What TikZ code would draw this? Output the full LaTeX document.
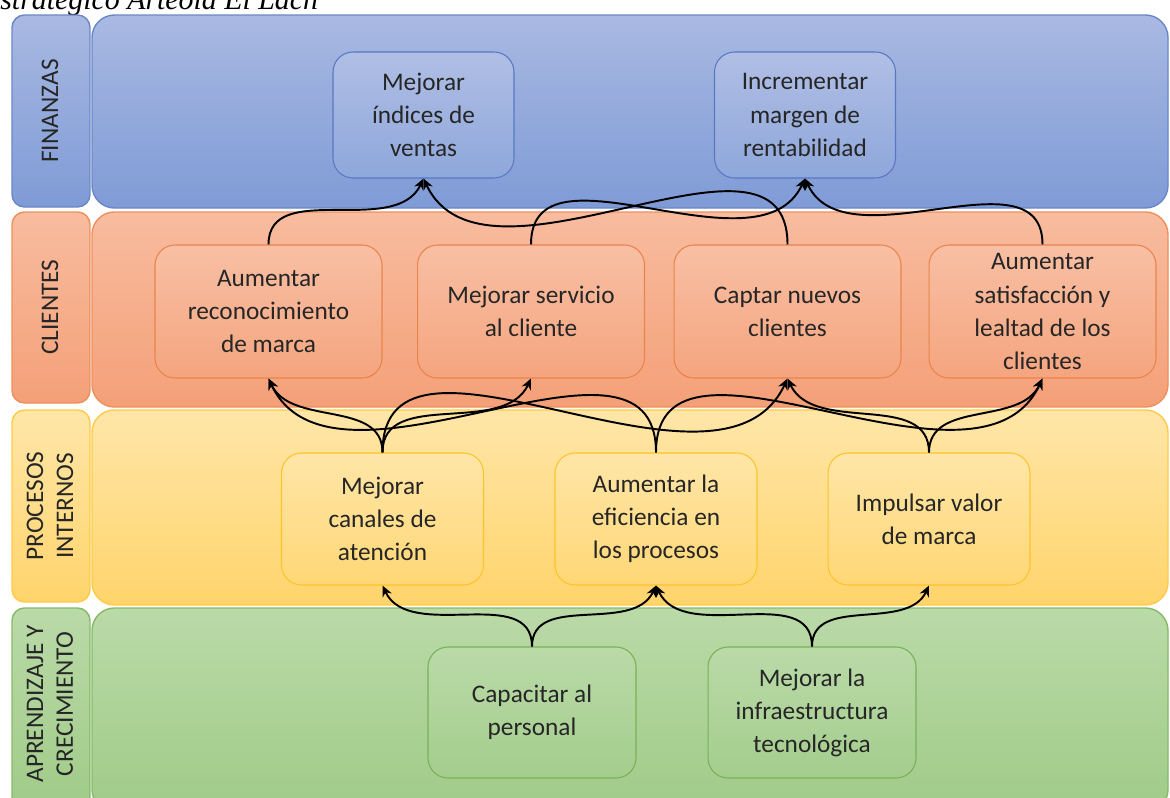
\documentclass[tikz,border=0pt]{standalone}
\usepackage{fontspec}
\setmainfont{Carlito}
\newfontfamily\capserif{Liberation Serif}
\usetikzlibrary{arrows.meta,positioning}

\definecolor{txt}{HTML}{262626}
\definecolor{finA}{HTML}{A9B9E2}
\definecolor{finB}{HTML}{7F9BD6}
\definecolor{finLine}{HTML}{6A88C9}
\definecolor{finEdge}{HTML}{5878C2}
\definecolor{cliA}{HTML}{F8BC9F}
\definecolor{cliB}{HTML}{F4A078}
\definecolor{cliLine}{HTML}{EE8F5E}
\definecolor{cliEdge}{HTML}{E8844C}
\definecolor{proA}{HTML}{FFE6A8}
\definecolor{proB}{HTML}{FFD46C}
\definecolor{proLine}{HTML}{FFCB45}
\definecolor{proEdge}{HTML}{FFC32A}
\definecolor{aprA}{HTML}{BADAA8}
\definecolor{aprB}{HTML}{A0CB88}
\definecolor{aprLine}{HTML}{86BA67}
\definecolor{aprEdge}{HTML}{78B156}

\begin{document}
\begin{tikzpicture}[x=0.02cm,y=-0.02cm,
  font=\fontsize{14.4}{18.8}\selectfont,
  lane/.style={line width=0.8pt,rounded corners=0.45cm},
  tag/.style={line width=0.8pt,rounded corners=0.25cm},
  tagtext/.style={rotate=90,align=center,text=txt,font=\fontsize{14.4}{17}\selectfont},
  box/.style={rectangle,rounded corners=0.4cm,align=center,text=txt,line width=0.6pt,inner sep=2pt},
  finbox/.style={box,draw=finEdge,top color=finA!92!white,bottom color=finB!88!white,minimum width=3.62cm,minimum height=2.52cm},
  clibox/.style={box,draw=cliEdge,top color=cliA!95!white,bottom color=cliB!95!white,minimum width=4.54cm,minimum height=2.66cm},
  probox/.style={box,draw=proEdge,top color=proA,bottom color=proB!85!proA,minimum width=4.04cm,minimum height=2.64cm},
  aprbox/.style={box,draw=aprEdge,top color=aprA,bottom color=aprB!85!aprA,minimum width=4.16cm,minimum height=2.62cm},
  link/.style={-{Stealth[length=2.2mm,width=2mm]},line width=1.1pt,black},
  upr/.style={link,out=90,in=-115},
  upl/.style={link,out=90,in=-65}]

\useasboundingbox[fill=white] (0,0) rectangle (1170,798);

% caption cut at the top edge
\node[anchor=base west,inner sep=0pt,font=\capserif\itshape\fontsize{17}{20}\selectfont] (cap) at (0,9) {strategico Arteola El Lach};

% lanes
\draw[lane,draw=finLine,top color=finA,bottom color=finB] (92,15) rectangle (1168,208);
\draw[tag,draw=finLine,top color=finA,bottom color=finB] (12,15) rectangle (90,207);
\node[tagtext] (tfin) at (50,111) {FINANZAS};

\draw[lane,draw=cliLine,top color=cliA,bottom color=cliB] (92,212) rectangle (1168,407);
\draw[tag,draw=cliLine,top color=cliA,bottom color=cliB] (12,212) rectangle (90,403);
\node[tagtext] (tcli) at (50,307) {CLIENTES};

\draw[lane,draw=proLine,top color=proA,bottom color=proB] (92,410) rectangle (1168,605);
\draw[tag,draw=proLine,top color=proA,bottom color=proB] (12,410) rectangle (90,602);
\node[tagtext] (tpro) at (50,506) {PROCESOS\\INTERNOS};

\draw[lane,draw=aprLine,top color=aprA,bottom color=aprB] (92,608) rectangle (1168,812);
\draw[tag,draw=aprLine,top color=aprA,bottom color=aprB] (12,608) rectangle (90,810);
\node[tagtext] (tapr) at (50,704) {APRENDIZAJE Y\\CRECIMIENTO};

% finanzas
\node[finbox] (ind) at (423.5,115) {Mejorar\\índices de\\ventas};
\node[finbox] (marg) at (805,115) {Incrementar\\margen de\\rentabilidad};

% clientes
\node[clibox] (rec) at (268.5,311.5) {Aumentar\\reconocimiento\\de marca};
\node[clibox] (serv) at (531,311.5) {Mejorar servicio\\al cliente};
\node[clibox] (capt) at (787.5,311.5) {Captar nuevos\\clientes};
\node[clibox] (sat) at (1042.5,311.5) {Aumentar\\satisfacción y\\lealtad de los\\clientes};

% procesos internos
\node[probox] (can) at (382.5,519) {Mejorar\\canales de\\atención};
\node[probox] (efi) at (656,519) {Aumentar la\\eficiencia en\\los procesos};
\node[probox] (imp) at (929,519) {Impulsar valor\\de marca};

% aprendizaje y crecimiento
\node[aprbox] (capa) at (532,712.5) {Capacitar al\\personal};
\node[aprbox] (infra) at (812,712.5) {Mejorar la\\infraestructura\\tecnológica};

% clientes -> finanzas
\draw[upr] (rec.north) to (ind.south);
\draw[upl] (capt.north) to (ind.south);
\draw[upr] (serv.north) to (marg.south);
\draw[upl] (sat.north) to (marg.south);

% procesos -> clientes
\draw[upl] (can.north) to (rec.south);
\draw[upr] (can.north) to (serv.south);
\draw[upr] (can.north) to (capt.south);
\draw[upl] (efi.north) to (rec.south);
\draw[upr] (efi.north) to (sat.south);
\draw[upl] (imp.north) to (capt.south);
\draw[upr] (imp.north) to (sat.south);

% aprendizaje -> procesos
\draw[upl] (capa.north) to (can.south);
\draw[upr] (capa.north) to (efi.south);
\draw[upl] (infra.north) to (efi.south);
\draw[upr] (infra.north) to (imp.south);
\end{tikzpicture}
\end{document}
